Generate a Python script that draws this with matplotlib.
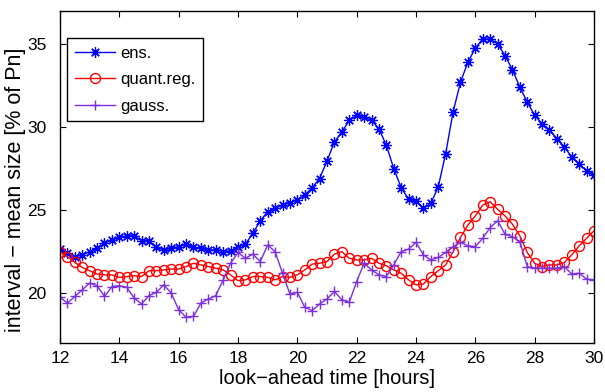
import numpy as np
import matplotlib
matplotlib.use("Agg")
import matplotlib.pyplot as plt

plt.rcParams['font.family'] = ['Liberation Sans', 'DejaVu Sans']

hours = np.arange(12, 30.001, 0.25)

ens = [22.65, 22.4, 22.2, 22.3, 22.5, 22.7, 23.0, 23.2, 23.35, 23.45, 23.45, 23.15,
       23.15, 22.75, 22.6, 22.7, 22.8, 22.95, 22.75, 22.7, 22.6, 22.6, 22.5, 22.55,
       22.75, 22.95, 23.6, 24.35, 24.9, 25.1, 25.3, 25.45, 25.6, 25.9, 26.35, 26.9,
       27.95, 29.1, 29.7, 30.4, 30.7, 30.6, 30.4, 29.9, 28.9, 27.5, 26.35, 25.65,
       25.55, 25.1, 25.4, 26.4, 28.4, 30.9, 32.7, 33.9, 34.75, 35.3, 35.3, 35.0,
       34.3, 33.45, 32.4, 31.5, 30.7, 30.2, 29.8, 29.3, 28.8, 28.2, 27.8, 27.35, 27.1]

quant_reg = [22.5, 22.2, 21.85, 21.55, 21.35, 21.15, 21.1, 21.1, 20.95, 21.0, 21.05, 21.0,
             21.35, 21.35, 21.4, 21.45, 21.45, 21.6, 21.8, 21.7, 21.6, 21.5, 21.4, 21.1,
             20.75, 20.8, 21.0, 21.0, 20.95, 20.8, 21.0, 20.95, 21.1, 21.4, 21.75, 21.8,
             21.9, 22.35, 22.5, 22.1, 22.0, 22.0, 22.1, 21.8, 21.65, 21.4, 21.2, 20.8,
             20.5, 20.55, 21.0, 21.35, 21.7, 22.5, 23.35, 24.1, 24.65, 25.3, 25.5, 25.05,
             24.65, 24.15, 23.45, 22.45, 21.8, 21.6, 21.7, 21.7, 21.85, 22.3, 22.85, 23.3, 23.75]

gauss = [19.75, 19.4, 19.8, 20.2, 20.6, 20.45, 19.8, 20.4, 20.45, 20.35, 19.7, 19.35,
         19.85, 20.05, 20.5, 20.0, 19.0, 18.55, 18.6, 19.4, 19.65, 19.85, 20.8, 21.8,
         22.45, 22.1, 22.35, 21.9, 22.9, 22.5, 21.2, 19.95, 20.05, 19.15, 18.95, 19.35,
         19.65, 20.1, 19.6, 19.45, 20.7, 21.8, 21.4, 21.1, 21.0, 21.7, 22.5, 22.65,
         23.05, 22.3, 22.0, 22.15, 22.45, 22.8, 23.05, 22.85, 22.8, 23.3, 23.95, 24.35,
         23.55, 23.4, 23.1, 21.6, 21.5, 21.5, 21.5, 21.5, 21.6, 21.15, 21.2, 20.85, 20.8]

labels = ['ens.', 'quant.reg.', 'gauss.']
xticks = [12, 14, 16, 18, 20, 22, 24, 26, 28, 30]
yticks = [20, 25, 30, 35]

fig = plt.figure(figsize=(6.05, 3.92), dpi=100)
ax = fig.add_axes([60/605, 1-343/392, 534/605, (343-10.7)/392])

purple = '#7b30dc'
asterisk = (8, 2, 0)
ax.plot(hours, ens, color='blue', marker=asterisk, markersize=7.5, linewidth=1.0,
        markeredgewidth=0.9, label=labels[0])
ax.plot(hours, quant_reg, color='red', marker='o', markersize=7.2, linewidth=1.0,
        markerfacecolor='none', markeredgewidth=1.0, label=labels[1])
ax.plot(hours, gauss, color=purple, marker='+', markersize=7.5, linewidth=1.0,
        markeredgewidth=1.0, label=labels[2])

ax.set_xlim(12, 30)
ax.set_ylim(17, 37)
ax.set_xticks(xticks)
ax.set_yticks(yticks)
ax.tick_params(direction='in', top=True, right=True, labelsize=12.5, length=4, width=0.8)
ax.tick_params(axis='x', pad=6)
ax.tick_params(axis='y', pad=9.5)
for s in ax.spines.values():
    s.set_linewidth(1.0)

ax.set_xlabel('look\u2212ahead time [hours]', fontsize=14.5, labelpad=2)
ax.set_ylabel('interval \u2212 mean size [% of Pn]', fontsize=15.5, labelpad=1)
ax.yaxis.label.set_y(0.46)

leg = ax.legend(loc='upper left', bbox_to_anchor=(7/534, 1-(38-10.7)/332.3), fontsize=12,
                frameon=True, fancybox=False, edgecolor='black', framealpha=1,
                borderaxespad=0, handlelength=2.4, borderpad=0.45, labelspacing=0.7,
                handletextpad=0.35)
leg.get_frame().set_linewidth(1.0)

fig.savefig('out.png', dpi=100)
